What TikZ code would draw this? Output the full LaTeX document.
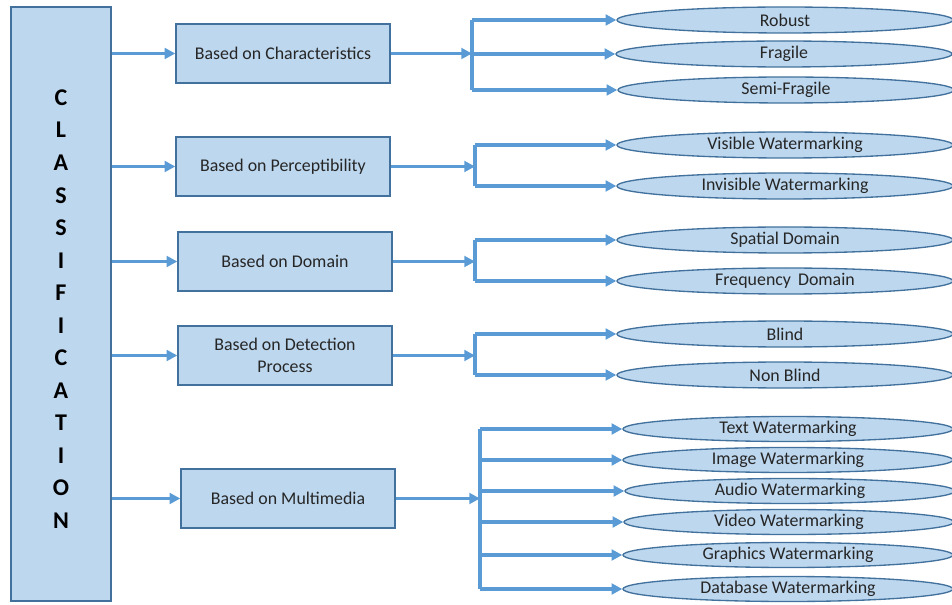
\documentclass[tikz,border=0pt]{standalone}
\usepackage{fontspec}
\setmainfont{Carlito}
\usetikzlibrary{shapes.geometric}
\usetikzlibrary{arrows.meta}
\definecolor{boxfill}{RGB}{189,215,238}
\definecolor{boxline}{RGB}{65,113,156}
\definecolor{arrowblue}{RGB}{91,155,213}
\tikzset{
  clsbox/.style={draw=boxline,fill=boxfill,line width=1pt,minimum width=75pt,minimum height=445.5pt,align=center,font=\fontsize{18}{24.4}\selectfont\bfseries},
  catbox/.style={draw=boxline,fill=boxfill,line width=1pt,minimum width=160.5pt,minimum height=44.25pt,align=center,text=black!85,font=\fontsize{13.4}{16}\selectfont},
  leaf/.style={ellipse,draw=boxline,fill=boxfill,line width=1pt,minimum width=252pt,minimum height=19.5pt,inner sep=0pt,text=black!85,font=\fontsize{13.4}{14}\selectfont},
  leafsm/.style={leaf,minimum width=247.5pt,minimum height=18.75pt},
  conn/.style={arrowblue,line width=2.6pt,-{Triangle[length=8pt,width=8pt]}},
  bus/.style={arrowblue,line width=2.6pt}
}
\begin{document}
\begin{tikzpicture}[x=0.75pt,y=0.75pt,yscale=-1,xscale=1]
\useasboundingbox (0,0) rectangle (952,605);

%Shape: Rectangle
\node[clsbox] (cls) at (61,304) {};
% Text Node
\node[font=\fontsize{18}{24.4}\selectfont\bfseries,align=center] (clstxt) at (61,309) {C\\L\\A\\S\\S\\I\\F\\I\\C\\A\\T\\I\\O\\N};

%Shape: Rectangle
\node[catbox] (char) at (283,53.5) {Based on Characteristics};
\node[catbox] (perc) at (283,166.5) {Based on Perceptibility};
\node[catbox] (dom) at (285,261.5) {Based on Domain};
\node[catbox] (det) at (285,355.5) {Based on Detection\\Process};
\node[catbox] (mm) at (288,498.5) {Based on Multimedia};

%Shape: Ellipse
\node[leaf] (rob) at (785,20) {Robust};
\node[leaf] (frag) at (784,54) {Fragile};
\node[leaf] (semi) at (786,90) {Semi-Fragile};
\node[leaf] (vis) at (785,145) {Visible Watermarking};
\node[leaf] (invis) at (785,186) {Invisible Watermarking};
\node[leaf] (spat) at (785,240) {Spatial Domain};
\node[leaf] (freq) at (785,281) {Frequency\, Domain};
\node[leaf] (blind) at (785,334) {Blind};
\node[leaf] (nblind) at (785,375) {Non Blind};
\node[leafsm] (txt) at (788,429) {Text Watermarking};
\node[leafsm] (img) at (788,460) {Image Watermarking};
\node[leafsm] (aud) at (790,491) {Audio Watermarking};
\node[leafsm] (vid) at (789,522) {Video Watermarking};
\node[leafsm] (gfx) at (788,555) {Graphics Watermarking};
\node[leafsm] (db) at (788,589) {Database Watermarking};

%Straight Lines
\draw[conn] (cls.east |- char.west) -- (char.west);
\draw[conn] (cls.east |- perc.west) -- (perc.west);
\draw[conn] (cls.east |- dom.west) -- (dom.west);
\draw[conn] (cls.east |- det.west) -- (det.west);
\draw[conn] (cls.east |- mm.west) -- (mm.west);

% Bus points
\coordinate (j1) at (472,0);
\coordinate (j2) at (475,0);
\coordinate (j3) at (475,0);
\coordinate (j4) at (475,0);
\coordinate (j5) at (480,0);

%Straight Lines
\draw[conn] (char.east) -- (char.east -| j1);
\draw[bus] (j1 |- rob) -- (j1 |- semi);
\draw[conn] (j1 |- rob) -- (rob.west);
\draw[conn] (j1 |- frag) -- (frag.west);
\draw[conn] (j1 |- semi) -- (semi.west);

\draw[conn] (perc.east) -- (perc.east -| j2);
\draw[bus] (j2 |- vis) -- (j2 |- invis);
\draw[conn] (j2 |- vis) -- (vis.west);
\draw[conn] (j2 |- invis) -- (invis.west);

\draw[conn] (dom.east) -- (dom.east -| j3);
\draw[bus] (j3 |- spat) -- (j3 |- freq);
\draw[conn] (j3 |- spat) -- (spat.west);
\draw[conn] (j3 |- freq) -- (freq.west);

\draw[conn] (det.east) -- (det.east -| j4);
\draw[bus] (j4 |- blind) -- (j4 |- nblind);
\draw[conn] (j4 |- blind) -- (blind.west);
\draw[conn] (j4 |- nblind) -- (nblind.west);

\draw[conn] (mm.east) -- (mm.east -| j5);
\draw[bus] (j5 |- txt) -- (j5 |- db);
\draw[conn] (j5 |- txt) -- (txt.west);
\draw[conn] (j5 |- img) -- (img.west);
\draw[conn] (j5 |- aud) -- (aud.west);
\draw[conn] (j5 |- vid) -- (vid.west);
\draw[conn] (j5 |- gfx) -- (gfx.west);
\draw[conn] (j5 |- db) -- (db.west);

\end{tikzpicture}
\end{document}
